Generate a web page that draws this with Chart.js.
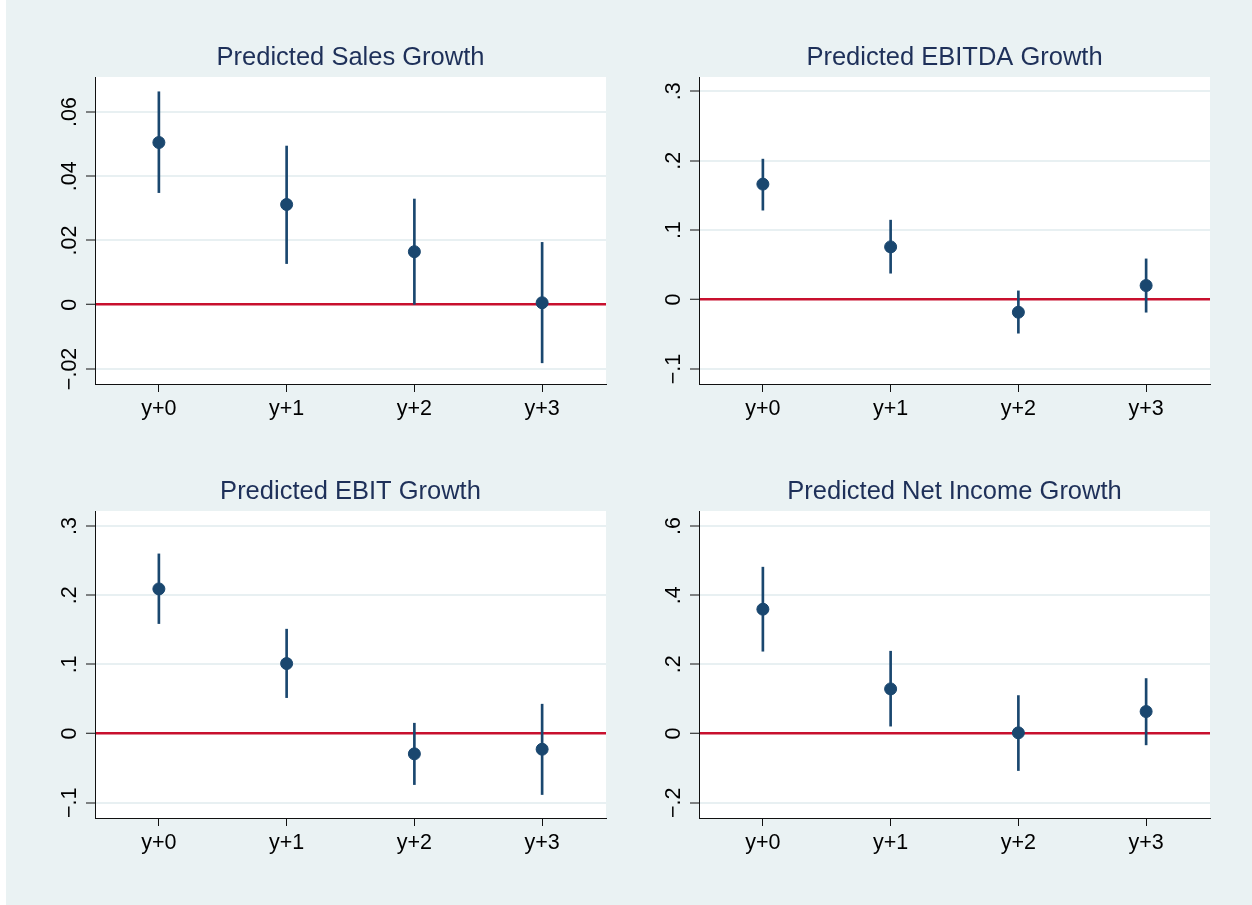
<!DOCTYPE html>
<html>
<head>
<meta charset="utf-8">
<title>Predicted growth by year</title>
<script src="https://cdn.jsdelivr.net/npm/chart.js@4/dist/chart.umd.min.js"></script>
<style>
  html, body { margin: 0; padding: 0; background: #ffffff; }
  #fig { position: relative; width: 1246px; height: 905px; margin-left: 6px; background: #eaf2f3; }
  #fig canvas { position: absolute; }
</style>
</head>
<body>
<div id="fig">
  <canvas id="sales"  width="620" height="450" style="left:0;top:0"></canvas>
  <canvas id="ebitda" width="626" height="450" style="left:620px;top:0"></canvas>
  <canvas id="ebit"   width="620" height="455" style="left:0;top:450px"></canvas>
  <canvas id="netinc" width="626" height="455" style="left:620px;top:450px"></canvas>
</div>
<script>
// horizons
const years = ["y+0", "y+1", "y+2", "y+3"];

// point estimates and 95% bands
const salesEst = [0.0505, 0.0312, 0.0165, 0.0006];
const salesLo  = [0.0349, 0.0128, 0.0001, -0.0181];
const salesHi  = [0.0663, 0.0494, 0.0329, 0.0194];

const ebitdaEst = [0.1663, 0.0759, -0.0182, 0.0202];
const ebitdaLo  = [0.1288, 0.0380, -0.0484, -0.0182];
const ebitdaHi  = [0.2023, 0.1144, 0.0125, 0.0586];

const ebitEst = [0.2091, 0.1012, -0.0293, -0.0226];
const ebitLo  = [0.1590, 0.0520, -0.0737, -0.0881];
const ebitHi  = [0.2597, 0.1509, 0.0150, 0.0425];

const niEst = [0.3595, 0.1290, 0.0020, 0.0636];
const niLo  = [0.2380, 0.0214, -0.1070, -0.0327];
const niHi  = [0.4810, 0.2380, 0.1098, 0.1590];

// y axis ticks
const salesTicks  = [-0.02, 0, 0.02, 0.04, 0.06];
const ebitdaTicks = [-0.1, 0, 0.1, 0.2, 0.3];
const ebitTicks   = [-0.1, 0, 0.1, 0.2, 0.3];
const niTicks     = [-0.2, 0, 0.2, 0.4, 0.6];

const NAVY = "#1a476f";
const RED = "#c8102e";
const GRID = "#e8f0f2";
const TITLE = "#1e3059";
const FONT = '"Liberation Sans", Arial, Helvetica, sans-serif';
const TICK_SIZE = 21.5;

// stata-ish labels: ".06", "−.02", "0"
function fmt(v) {
    if (v === 0) return "0";
    return (v < 0 ? "\u2212" : "") + String(Math.abs(v)).replace(/^0/, "");
}

// white plot region
const plotBg = {
    id: "plotBg",
    beforeDraw(chart) {
        const a = chart.chartArea;
        chart.ctx.save();
        chart.ctx.fillStyle = "#ffffff";
        chart.ctx.fillRect(a.left, a.top, a.right - a.left, a.bottom - a.top);
        chart.ctx.restore();
    }
};

// y labels turned 90 degrees, read bottom to top
const rotatedYLabels = {
    id: "rotatedYLabels",
    afterDraw(chart) {
        const scale = chart.scales.y;
        const ctx = chart.ctx;
        const x = scale.right - 19;
        ctx.save();
        ctx.font = TICK_SIZE + "px " + FONT;
        ctx.fillStyle = "#000";
        ctx.textAlign = "center";
        ctx.textBaseline = "alphabetic";
        scale.ticks.forEach(t => {
            const y = scale.getPixelForValue(t.value);
            ctx.save();
            ctx.translate(x, y);
            ctx.rotate(-Math.PI / 2);
            ctx.fillText(fmt(t.value), 0, 0);
            ctx.restore();
        });
        ctx.restore();
    }
};

function makePanel(id, p) {
    const ctx = document.getElementById(id).getContext("2d");
    return new Chart(ctx, {
        type: "bar",
        data: {
            labels: years,
            datasets: [
                {
                    type: "line",
                    data: p.est,
                    showLine: false,
                    pointRadius: 6,
                    pointHoverRadius: 6,
                    pointBackgroundColor: NAVY,
                    pointBorderColor: NAVY,
                    pointBorderWidth: 1,
                    order: 0
                },
                {
                    type: "bar",
                    data: p.lo.map((l, i) => [l, p.hi[i]]),
                    backgroundColor: NAVY,
                    barThickness: 2,
                    order: 1
                }
            ]
        },
        options: {
            responsive: false,
            animation: false,
            devicePixelRatio: 1,
            layout: { padding: { left: 0, right: p.padRight, top: 0, bottom: 0 } },
            plugins: {
                legend: { display: false },
                tooltip: { enabled: false },
                title: {
                    display: true,
                    text: p.title,
                    color: TITLE,
                    fullSize: false,
                    font: { family: FONT, size: 25.5, weight: "normal", lineHeight: 1.2 },
                    padding: { top: p.titleTop, bottom: p.titleBottom }
                }
            },
            scales: {
                x: {
                    type: "category",
                    offset: true,
                    grid: { display: true, drawOnChartArea: false, offset: false, tickLength: 8, tickColor: "#111", tickWidth: 1 },
                    border: { display: true, color: "#111", width: 1 },
                    ticks: { color: "#000", padding: 4, font: { family: FONT, size: TICK_SIZE } },
                    afterFit: s => { s.height = p.xHeight; }
                },
                y: {
                    min: p.min,
                    max: p.max,
                    grid: {
                        color: c => (c.tick && c.tick.value === 0 ? RED : GRID),
                        lineWidth: c => (c.tick && c.tick.value === 0 ? 2.5 : 2),
                        tickLength: 9,
                        tickColor: "#111",
                        tickWidth: 1
                    },
                    border: { display: true, color: "#111", width: 1 },
                    ticks: { display: false },
                    afterBuildTicks: s => { s.ticks = p.ticks.map(v => ({ value: v })); },
                    afterFit: s => { s.width = p.yWidth; }
                }
            }
        },
        plugins: [plotBg, rotatedYLabels]
    });
}

makePanel("sales", {
    title: "Predicted Sales Growth", est: salesEst, lo: salesLo, hi: salesHi,
    ticks: salesTicks, min: -0.0247, max: 0.0709,
    yWidth: 89, padRight: 20, xHeight: 66, titleTop: 43, titleBottom: 3.4
});
makePanel("ebitda", {
    title: "Predicted EBITDA Growth", est: ebitdaEst, lo: ebitdaLo, hi: ebitdaHi,
    ticks: ebitdaTicks, min: -0.1216, max: 0.3206,
    yWidth: 73, padRight: 42, xHeight: 66, titleTop: 43, titleBottom: 3.4
});
makePanel("ebit", {
    title: "Predicted EBIT Growth", est: ebitEst, lo: ebitLo, hi: ebitHi,
    ticks: ebitTicks, min: -0.1220, max: 0.3217,
    yWidth: 89, padRight: 20, xHeight: 87, titleTop: 27, titleBottom: 3.4
});
makePanel("netinc", {
    title: "Predicted Net Income Growth", est: niEst, lo: niLo, hi: niHi,
    ticks: niTicks, min: -0.2442, max: 0.6434,
    yWidth: 73, padRight: 42, xHeight: 87, titleTop: 27, titleBottom: 3.4
});
</script>
</body>
</html>
